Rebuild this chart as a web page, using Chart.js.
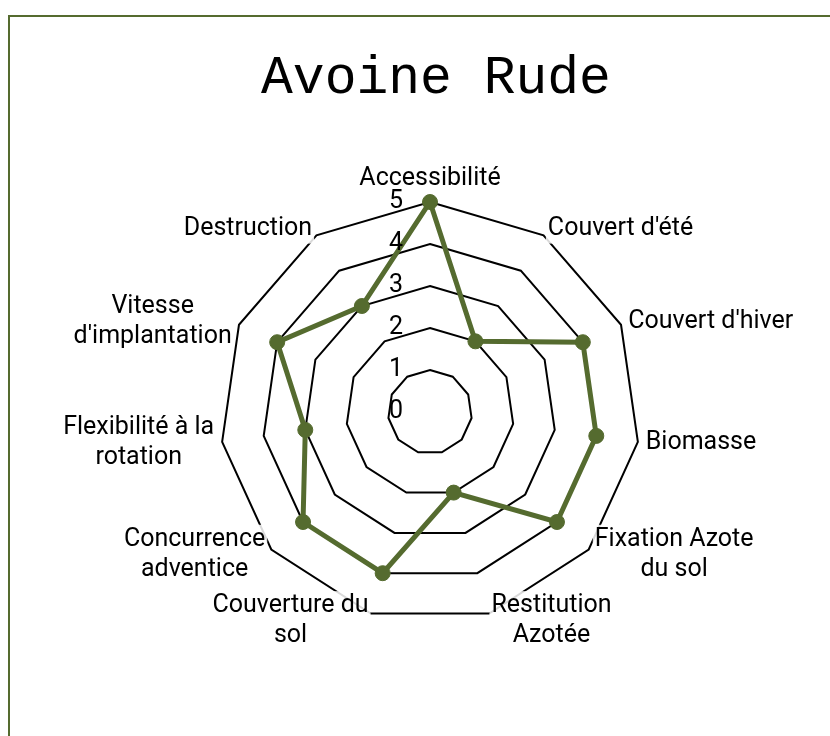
<!DOCTYPE html>
<html lang="fr">
<head>
<meta charset="utf-8">
<title>Avoine Rude</title>
<script src="https://cdn.jsdelivr.net/npm/chart.js@4.4.1/dist/chart.umd.min.js"></script>
<style>
  html, body { margin: 0; padding: 0; background: #fff; overflow: hidden; }
  body { width: 830px; height: 736px; position: relative; }
  #cadre {
    position: absolute; left: 8px; top: 15px; width: 900px; height: 800px;
    border-left: 2px solid #556b2f; border-top: 2px solid #556b2f;
  }
  #titre {
    position: absolute; left: 236px; top: 49px; width: 400px; text-align: center;
    font-family: "Courier New", "Liberation Mono", monospace; font-size: 53px; line-height: 60px; color: #000;
  }
  #radar { position: absolute; left: 0; top: 0; }
</style>
</head>
<body>
<div id="cadre"></div>
<div id="titre">Avoine Rude</div>
<canvas id="radar" width="830" height="736"></canvas>
<script>
// Critères (libellés sur plusieurs lignes) et notes sur 5
const criteres = [
  ["Accessibilité"],
  ["Couvert d'été"],
  ["Couvert d'hiver"],
  ["Biomasse"],
  ["Fixation Azote", "du sol"],
  ["Restitution", "Azotée"],
  ["Couverture du", "sol"],
  ["Concurrence", "adventice"],
  ["Flexibilité à la", "rotation"],
  ["Vitesse", "d'implantation"],
  ["Destruction"]
];
const notes = [5, 2, 4, 4, 4, 2, 4, 4, 3, 4, 3];
const graduations = [0, 1, 2, 3, 4, 5];

const VERT = "#556b2f";

// libellés dessinés à la main : texte centré par bloc, graduations décalées à gauche
const etiquettesPlugin = {
  id: "etiquettes",
  afterDraw(chart) {
    const r = chart.scales.r;
    const ctx = chart.ctx;
    ctx.save();
    ctx.font = "25px Roboto";
    ctx.textBaseline = "middle";
    ctx.textAlign = "center";

    const lh = 30;
    criteres.forEach((lignes, i) => {
      const pos = r.getPointPosition(i, r.drawingArea + 8);
      const deg = Math.round(((pos.angle + Math.PI / 2) * 180 / Math.PI + 360) % 360);
      const w = Math.max(...lignes.map(l => ctx.measureText(l).width));
      const h = lignes.length * lh;
      let left = pos.x - w / 2;
      if (deg > 0 && deg < 180) left = pos.x;
      else if (deg > 180) left = pos.x - w;
      let top = pos.y - h / 2;
      if (deg === 0) top = pos.y - h;
      else if (deg === 180) top = pos.y;
      ctx.fillStyle = "rgba(255,255,255,0.85)";
      ctx.fillRect(left - 2, top, w + 4, h);
      ctx.fillStyle = "#000";
      lignes.forEach((l, k) => ctx.fillText(l, left + w / 2, top + lh / 2 + k * lh));
    });

    ctx.fillStyle = "#000";
    graduations.forEach(v => {
      ctx.fillText(String(v), r.xCenter - 34, r.yCenter - r.getDistanceFromCenterForValue(v));
    });
    ctx.restore();
  }
};

new Chart(document.getElementById("radar"), {
  type: "radar",
  data: {
    labels: criteres,
    datasets: [{
      label: "Avoine Rude",
      data: notes,
      borderColor: VERT,
      backgroundColor: VERT,
      borderWidth: 5,
      fill: false,
      pointRadius: 7.5,
      pointBorderWidth: 1,
      pointBorderColor: VERT,
      pointBackgroundColor: VERT,
      clip: false
    }]
  },
  options: {
    responsive: false,
    animation: false,
    layout: { padding: { left: 220, right: 190, top: 202, bottom: 114 } },
    plugins: { legend: { display: false }, tooltip: { enabled: false } },
    scales: {
      r: {
        min: 0,
        max: 5,
        ticks: { display: false, stepSize: 1 },
        grid: { color: "#000", lineWidth: 2 },
        angleLines: { display: false },
        pointLabels: { display: false }
      }
    }
  },
  plugins: [etiquettesPlugin]
});
</script>
</body>
</html>
